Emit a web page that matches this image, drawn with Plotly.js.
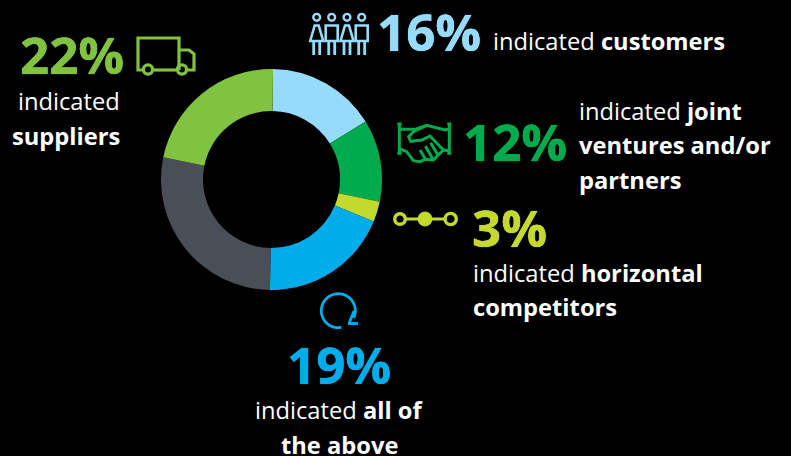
<!DOCTYPE html>
<html>
<head>
<meta charset="utf-8">
<script src="https://cdn.plot.ly/plotly-3.0.1.min.js"></script>
<style>html,body{margin:0;padding:0;background:#000;overflow:hidden}</style>
</head>
<body>
<div id="chart" style="width:791px;height:456px"></div>
<script>
var categories = ["customers", "joint ventures and/or partners", "horizontal competitors", "all of the above", "other", "suppliers"];
var values = [16, 12, 3, 19, 28, 22];
var sliceColors = ["#97DBFA", "#00AB4E", "#C4D82E", "#00ADEA", "#4A4F57", "#81C241"];
var W = 791, H = 456;
var FONT = "'Open Sans', sans-serif";
var cGreen = sliceColors[5], cSky = sliceColors[0], cDeep = sliceColors[1], cLime = sliceColors[2], cBlue = sliceColors[3];

function px(x){return x/W;}
function py(y){return 1-y/H;}
function path(pts, color, w, close){
  var s = pts.map(function(p,i){return (i?"L":"M")+px(p[0])+","+py(p[1]);}).join(" ");
  return {type:"path", xref:"paper", yref:"paper", path:s+(close?" Z":""), line:{color:color,width:w}, fillcolor:"rgba(0,0,0,0)"};
}
function circ(cx,cy,r,color,w,fill){
  return {type:"circle", xref:"paper", yref:"paper", x0:px(cx-r), x1:px(cx+r), y0:py(cy+r), y1:py(cy-r),
    line:{color:color,width:w}, fillcolor:fill||"rgba(0,0,0,0)"};
}
function arc(cx,cy,r,a0,a1,n){
  var o=[]; for(var i=0;i<=n;i++){var a=(a0+(a1-a0)*i/n)*Math.PI/180; o.push([cx+r*Math.cos(a),cy+r*Math.sin(a)]);} return o;
}
var shapes = [];
// truck
var tw = 3.2;
shapes.push(path([[142.5,70],[138,70],[138,38],[179,38],[179,70]],cGreen,tw));
shapes.push(path([[154,70],[176,70]],cGreen,tw));
shapes.push(path([[179,50],[189,50],[194,54],[194,70],[188,70]],cGreen,tw));
shapes.push(circ(148,69.5,4.6,cGreen,tw));
shapes.push(circ(182,69.5,4.6,cGreen,tw));
// people
[316.7,331.7,347,361.7].forEach(function(c,i){
  shapes.push(circ(c,17.3,3.4,cSky,2.4));
  if(i%2===0){
    shapes.push(path([[c-6.5,41],[c-2,25.5],[c+2,25.5],[c+6.5,41]],cSky,2.6,true));
  } else {
    shapes.push(path([[c-6,41],[c-6,25.5],[c+6,25.5],[c+6,41]],cSky,2.6,true));
  }
  shapes.push(path([[c-3,41],[c-3,55]],cSky,2.8));
  shapes.push(path([[c+3,41],[c+3,55]],cSky,2.8));
});
// handshake
var hw = 3;
var hs = function(l){return l.map(function(p){return [380+p[0]/3,100+p[1]/3];});};
shapes.push(path(hs([[58,72],[58,160]]),cDeep,hw));
shapes.push(path(hs([[52,72],[65,72]]),cDeep,hw));
shapes.push(path(hs([[52,160],[65,160]]),cDeep,hw));
shapes.push(path(hs([[208,72],[208,160]]),cDeep,hw));
shapes.push(path(hs([[202,72],[214,72]]),cDeep,hw));
shapes.push(path(hs([[202,160],[214,160]]),cDeep,hw));
shapes.push(path(hs([[58,88],[105,88],[140,76],[195,90],[208,86]]),cDeep,hw));
shapes.push(path(hs([[140,76],[100,95],[86,110],[92,124],[125,120],[150,108],[190,150],[208,152]]),cDeep,hw));
shapes.push(path(hs([[58,146],[80,155],[100,182],[120,185],[135,178],[160,180],[190,150]]),cDeep,hw));
shapes.push(path(hs([[120,150],[136,176]]),cDeep,hw));
shapes.push(path(hs([[136,138],[158,176]]),cDeep,hw));
shapes.push(path(hs([[152,128],[174,166]]),cDeep,hw));
// chain
shapes.push(path([[405,219],[445,219]],cLime,3.2));
shapes.push(circ(400,219,5.3,cLime,3.4));
shapes.push(circ(425,219,7,cLime,1,cLime));
shapes.push(circ(450.7,219,5.6,cLime,3.4));
// refresh
shapes.push(path(arc(338.3,310.7,17,80,385,40),cBlue,2.8));
shapes.push(path([[348,323.5],[358,323.5]],cBlue,2.8));
shapes.push(path([[354,311],[349,323.5]],cBlue,2.8));

function note(text,x,y,size,color,anchor,heavy){
  var f = {family:FONT,size:size,color:color};
  if(heavy){ f.weight = 700; f.shadow = "0 0 0.7px "+color+", 0 0 0.7px "+color; }
  return {xref:"paper",yref:"paper",x:px(x),y:py(y),text:text,showarrow:false,xanchor:anchor||"left",yanchor:"middle",
    align:anchor||"left",borderpad:0,font:f};
}
var big = 51, small = 23.7;
var annotations = [
  note("22%",71.5,53.5,big,cGreen,"center",true),
  note("indicated",69,101,small,"#fff","center"),
  note("<b>suppliers</b>",66,136,small,"#fff","center"),
  note("16%",376,31.5,big,cSky,"left",true),
  note("indicated <b>customers</b>",492,41,small,"#fff"),
  note("12%",462,141.5,big,cDeep,"left",true),
  note("indicated <b>joint</b>",578,111,small,"#fff"),
  note("<b>ventures and/or</b>",578,145.5,small,"#fff"),
  note("<b>partners</b>",578,179.5,small,"#fff"),
  note("3%",471,226.5,big,cLime,"left",true),
  note("indicated <b>horizontal</b>",472,272.5,small,"#fff"),
  note("<b>competitors</b>",472,306.5,small,"#fff"),
  note("19%",339,363.5,big,cBlue,"center",true),
  note("indicated <b>all of</b>",339,409.5,small,"#fff","center"),
  note("<b>the above</b>",339,444.5,small,"#fff","center"),
  note("2,077",775,464,19,"#9a9a9a","right")
];
var cx=271.5, cy=179.5, R=110.5;
Plotly.newPlot("chart",[{
  type:"pie", labels:categories, values:values, sort:false, direction:"clockwise", rotation:0.8,
  hole:0.62, textinfo:"none", hoverinfo:"label+percent", showlegend:false,
  marker:{colors:sliceColors, line:{width:0}},
  domain:{x:[(cx-R)/W,(cx+R)/W], y:[1-(cy+R)/H,1-(cy-R)/H]}
}],{
  width:W,height:H,margin:{l:0,r:0,t:0,b:0},paper_bgcolor:"#000",plot_bgcolor:"#000",showlegend:false,
  shapes:shapes,annotations:annotations,font:{family:FONT}
},{displayModeBar:false,staticPlot:true});
</script>
</body>
</html>
